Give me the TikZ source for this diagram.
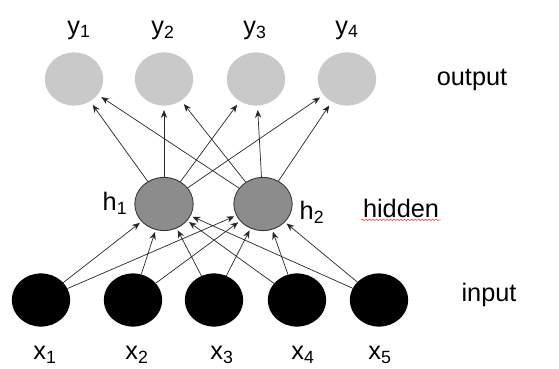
\documentclass[tikz,border=0pt]{standalone}
\usepackage{fontspec}
\setmainfont{Liberation Sans}
\usetikzlibrary{arrows.meta,shapes,decorations.pathmorphing}
\definecolor{outgray}{HTML}{C9C9C9}
\definecolor{hidgray}{HTML}{8C8C8C}
\tikzset{
  every picture/.style={
    line join=round,
    line cap=round,
    >={Stealth[length=5.5pt,width=4.5pt]},
  },
  unit/.style={ellipse, minimum width=1.46cm, minimum height=1.33cm, inner sep=0pt},
  outunit/.style={unit, fill=outgray},
  hidunit/.style={unit, fill=hidgray, draw=black!80, line width=0.6pt},
  inunit/.style={unit, fill=black},
  lbl/.style={font=\fontsize{18}{21}\selectfont, inner sep=1pt},
  wire/.style={->, line width=0.5pt, black!85, shorten >=1.5pt},
}

\begin{document}
\begin{tikzpicture}
\useasboundingbox (0,0) rectangle (13.975,9.2);
% output layer
\node[outunit] (y1) at (1.85,7.225) {};
\node[outunit] (y2) at (4.1,7.225) {};
\node[outunit] (y3) at (6.4,7.225) {};
\node[outunit] (y4) at (8.675,7.225) {};
\node[lbl] (ly1) at (1.975,8.45) {y\textsubscript{1}};
\node[lbl] (ly2) at (4.075,8.45) {y\textsubscript{2}};
\node[lbl] (ly3) at (6.375,8.45) {y\textsubscript{3}};
\node[lbl] (ly4) at (8.675,8.45) {y\textsubscript{4}};
\node[lbl] (lout) at (11.8,7.2) {output};
% hidden layer
\node[hidunit] (h1) at (4.1,4.1) {};
\node[hidunit] (h2) at (6.575,4.1) {};
\node[lbl] (lh1) at (2.875,4.125) {h\textsubscript{1}};
\node[lbl] (lh2) at (7.8,3.9) {h\textsubscript{2}};
\node[lbl] (lhid) at (10.025,4.0) {hidden};
\draw[red!80, line width=0.4pt, decorate, decoration={snake, amplitude=0.5pt, segment length=2.5pt}]
  ([yshift=-2pt]lhid.base west) -- ([yshift=-2pt]lhid.base east);
% input layer
\node[inunit] (x1) at (1.025,1.7) {};
\node[inunit] (x2) at (3.325,1.7) {};
\node[inunit] (x3) at (5.35,1.7) {};
\node[inunit] (x4) at (7.425,1.7) {};
\node[inunit] (x5) at (9.475,1.7) {};
\node[lbl] (lx1) at (1.125,0.325) {x\textsubscript{1}};
\node[lbl] (lx2) at (3.425,0.325) {x\textsubscript{2}};
\node[lbl] (lx3) at (5.55,0.325) {x\textsubscript{3}};
\node[lbl] (lx4) at (7.575,0.325) {x\textsubscript{4}};
\node[lbl] (lx5) at (9.5,0.325) {x\textsubscript{5}};
\node[lbl] (lin) at (12.225,1.825) {input};
% connections
\foreach \i in {1,...,5}
  \foreach \j in {1,2}
    \draw[wire] (x\i) -- (h\j);
\foreach \j in {1,2}
  \foreach \k in {1,...,4}
    \draw[wire, shorten >=3pt] (h\j) -- (y\k);
\end{tikzpicture}
\end{document}
